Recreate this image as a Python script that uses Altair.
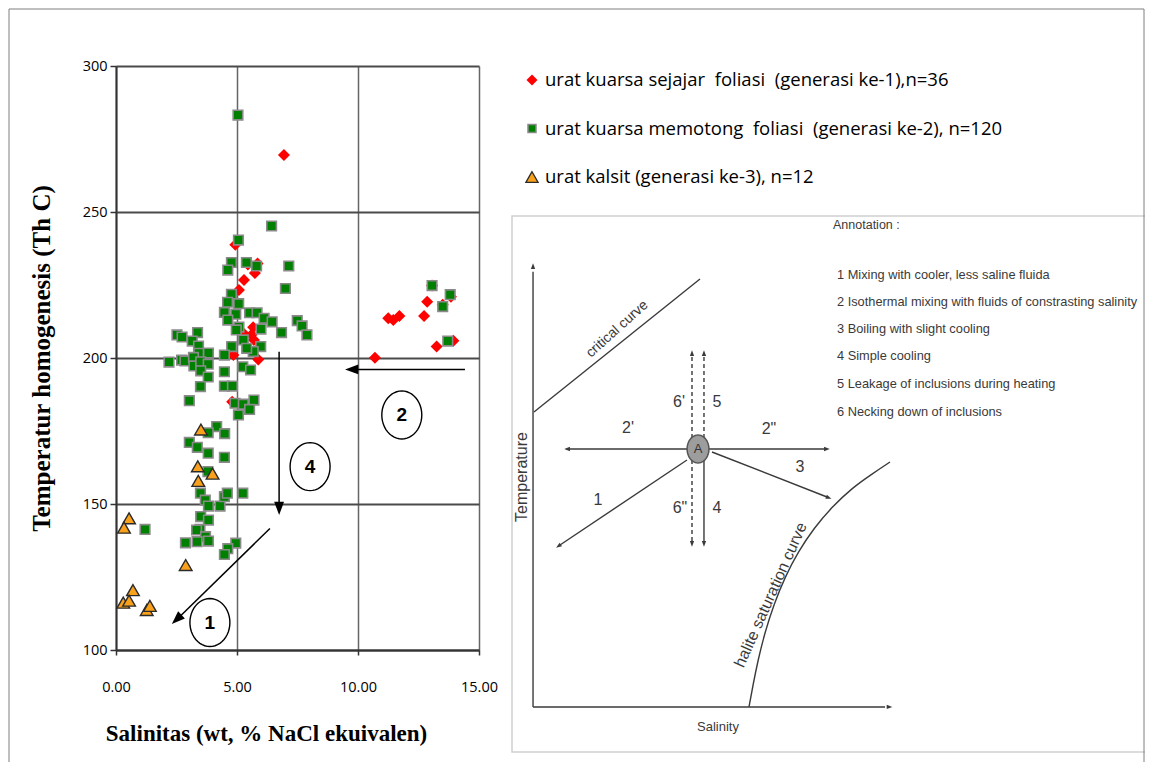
import math
import altair as alt
import pandas as pd

# ---------------- data ----------------
# generasi ke-1 (red diamonds)
red_x = [6.94, 4.93, 5.29, 5.08, 5.85, 5.74, 5.67, 5.70, 5.88, 4.85, 5.26, 5.60, 5.45, 4.80,
         10.70, 11.25, 11.46, 11.71, 12.73, 12.86, 13.25, 13.94, 13.84, 13.06, 13.50]
red_y = [269.5, 238.8, 226.7, 223.3, 232.4, 229.1, 210.5, 206.2, 199.5, 201.0, 208.5, 208.0, 232.0, 185.0,
         200.1, 213.6, 213.0, 214.4, 214.4, 219.3, 203.9, 205.9, 221.0, 224.8, 218.2]

# generasi ke-2 (green squares)
green_x = [5.04, 6.43, 5.06, 4.77, 5.39, 5.81, 7.14, 4.62, 7.00, 4.77,
           4.61, 5.07, 4.48, 4.95, 5.52, 5.83, 6.12, 6.45, 4.62, 7.49,
           7.69, 7.89, 6.84, 5.99, 5.08, 4.97, 5.98, 5.67, 5.26, 4.78,
           5.40, 4.48, 5.24, 5.56, 4.48, 4.48, 4.81, 4.92, 5.26, 5.70,
           5.52, 5.06, 2.52, 2.73, 3.37, 3.15, 3.41, 3.42, 3.82, 2.19,
           2.71, 2.85, 3.20, 3.22, 3.50, 3.81, 3.50, 3.81, 3.49, 3.03,
           4.16, 4.49, 3.81, 3.03, 3.36, 3.81, 4.48, 3.80, 3.49, 3.69,
           3.82, 4.30, 4.48, 4.60, 5.24, 3.50, 3.82, 3.47, 3.33, 3.70,
           2.87, 3.35, 3.82, 1.20, 4.95, 4.62, 4.48,
           13.06, 13.81, 13.50, 13.71]
green_y = [283.2, 245.2, 240.4, 232.7, 232.7, 231.5, 231.5, 230.1, 223.8, 221.8,
           219.1, 218.6, 215.6, 215.0, 215.5, 215.5, 213.6, 212.4, 213.0, 212.8,
           211.0, 207.9, 208.7, 209.9, 210.6, 209.6, 203.9, 202.2, 206.2, 203.9,
           203.3, 201.0, 197.0, 195.9, 195.3, 190.4, 190.4, 184.5, 184.2, 185.6,
           182.4, 180.5, 207.9, 207.2, 208.7, 205.8, 204.1, 201.6, 201.7, 198.6,
           199.3, 199.0, 200.2, 197.3, 198.7, 197.9, 195.6, 193.5, 190.2, 185.4,
           176.5, 174.1, 174.4, 171.1, 169.4, 167.4, 166.0, 161.1, 153.7, 151.3,
           149.3, 149.3, 152.5, 153.7, 153.7, 145.7, 144.5, 141.3, 141.1, 138.8,
           136.7, 137.1, 137.3, 141.3, 136.6, 134.7, 132.7,
           224.8, 221.7, 217.6, 205.8]

# generasi ke-3 (orange triangles)
orange_x = [3.51, 3.38, 3.99, 3.40, 2.88, 0.54, 0.33, 0.70, 0.30, 0.54, 1.27, 1.40]
orange_y = [175.5, 162.9, 160.4, 157.9, 129.1, 145.1, 141.9, 120.5, 116.2, 116.9, 113.7, 115.1]

NB = "\u00a0"
series_labels = [f"urat kuarsa sejajar {NB}foliasi {NB}(generasi ke-1),n=36",
                 f"urat kuarsa memotong {NB}foliasi {NB}(generasi ke-2), n=120",
                 "urat kalsit (generasi ke-3), n=12"]

x_ticks = [0, 5, 10, 15]
y_ticks = [100, 150, 200, 250, 300]

# process arrows drawn on the main chart (data units)
arrow_x0 = [6.74, 14.42, 6.36]
arrow_y0 = [202.1, 196.1, 141.6]
arrow_x1 = [6.74, 9.92, 2.64]
arrow_y1 = [150.0, 196.1, 111.5]
arrow_angle = [180, 270, 227]
circle_labels = ["4", "2", "1"]
circle_x = [8.02, 11.81, 3.88]
circle_y = [162.8, 180.5, 109.4]

# inset diagram (schematic units 0-100)
seg_x0 = [3.28, 3.28, 3.43, 8.89, 27.30, 31.20, 29.95]
seg_y0 = [8.40, 8.40, 63.43, 56.53, 54.48, 55.97, 54.48]
seg_x1 = [3.28, 58.2, 29.33, 48.83, 7.49, 49.14, 29.95]
seg_y1 = [89.6, 8.40, 88.25, 56.53, 38.62, 47.57, 39.18]
dash_x0 = [28.08, 29.95, 28.08]
dash_y0 = [58.58, 58.58, 54.48]
dash_x1 = [28.08, 29.95, 28.08]
dash_y1 = [74.07, 74.07, 39.18]
head_x = [3.28, 58.6, 8.89, 48.83, 28.08, 29.95, 28.08, 29.95, 7.49, 49.14]
head_y = [90.3, 8.40, 56.53, 56.53, 74.07, 74.07, 39.18, 39.18, 38.62, 47.57]
head_ang = [0, 90, 270, 90, 0, 0, 180, 180, 236, 111]
halite_x = [36.97, 37.60, 38.38, 39.47, 40.87, 42.59, 44.62, 47.11, 49.92, 53.04, 56.16, 58.97]
halite_y = [8.40, 12.50, 17.16, 22.39, 27.61, 32.65, 37.31, 41.79, 45.71, 49.25, 51.87, 54.10]
path_labels = ["2'", '2"', "6'", "5", '6"', "4", "1", "3"]
path_lab_x = [18.10, 40.09, 26.05, 31.98, 26.21, 31.98, 13.42, 44.93]
path_lab_y = [60.45, 60.26, 65.30, 65.30, 45.52, 45.52, 47.01, 53.17]
annot_title = "Annotation :"
annot_items = ["1  Mixing with cooler, less saline fluida",
               "2  Isothermal mixing with fluids of constrasting salinity",
               "3  Boiling with slight cooling",
               "4  Simple cooling",
               "5  Leakage of inclusions during heating",
               "6  Necking down of inclusions"]
annot_y = [88.99, 83.96, 78.92, 73.88, 68.66, 63.43]


def ellipse_path(rx, ry, n=48):
    pts = []
    for i in range(n):
        t = 2 * math.pi * i / n
        pts.append(f"{rx * math.cos(t):.4f},{ry * math.sin(t):.4f}")
    return "M" + " L".join(pts) + " Z"


HEAD = "M0,-1 L0.45,0.2 L-0.45,0.2 Z"
TXT = "Liberation Sans"
INK = "#3a3a3a"

# ---------------- main scatter ----------------
xs = alt.Scale(domain=[0, 15], nice=False, zero=False)
ys = alt.Scale(domain=[100, 300], nice=False, zero=False)
axis_x = alt.Axis(values=x_ticks, format=".2f", title="Salinitas (wt, % NaCl ekuivalen)",
                  titleFont="Liberation Serif", titleFontSize=23, titleFontWeight="bold",
                  titleColor="black", titleX=150, titleY=83, titleAlign="center",
                  titleBaseline="middle", labelFont="Open Sans", labelFontSize=14.5,
                  labelColor="black", labelPadding=25, labelFlush=False, tickSize=5,
                  tickColor="#333", tickWidth=1.5, domainColor="#333", domainWidth=2,
                  grid=True, gridColor="#666", gridWidth=1.5)
axis_y = alt.Axis(values=y_ticks, format="d", title="Temperatur homogenesis (Th  C)",
                  titleFont="Liberation Serif", titleFontSize=25, titleFontWeight="bold",
                  titleColor="black", titleAngle=270, titleX=-75, titleY=292,
                  titleAlign="center", titleBaseline="middle", labelFont="Open Sans",
                  labelFontSize=14.5, labelColor="black", labelPadding=3, tickSize=6,
                  tickColor="#333", tickWidth=1.5, domainColor="#333", domainWidth=2,
                  grid=True, gridColor="#4a4a4a", gridWidth=2)
X = alt.X("x:Q", scale=xs, axis=axis_x)
Y = alt.Y("y:Q", scale=ys, axis=axis_y)

red_df = pd.DataFrame({"x": red_x, "y": red_y})
green_df = pd.DataFrame({"x": green_x, "y": green_y})
orange_df = pd.DataFrame({"x": orange_x, "y": orange_y})
arrow_df = pd.DataFrame({"x": arrow_x0, "y": arrow_y0, "x2": arrow_x1, "y2": arrow_y1})
head_df = pd.DataFrame({"x": arrow_x1, "y": arrow_y1, "ang": arrow_angle})
circ_df = pd.DataFrame({"x": circle_x, "y": circle_y, "label": circle_labels})

reds = alt.Chart(red_df).mark_point(shape="diamond", filled=True, fill="#FF0000",
                                    strokeWidth=0, size=144, opacity=1).encode(x=X, y=Y)
greens = alt.Chart(green_df).mark_point(shape="square", filled=True, fill="#008000",
                                        stroke="#8a8a8a", strokeWidth=1.6, size=92,
                                        opacity=1).encode(x=X, y=Y)
oranges = alt.Chart(orange_df).mark_point(shape="triangle-up", filled=True, fill="#F9A11B",
                                          stroke="#2b2b2b", strokeWidth=1.4, size=160,
                                          opacity=1).encode(x=X, y=Y)
arrows = alt.Chart(arrow_df).mark_rule(color="black", strokeWidth=1.5).encode(
    x=X, y=Y, x2="x2:Q", y2="y2:Q")
heads = alt.Chart(head_df).mark_point(shape=HEAD, filled=True, fill="black", size=484,
                                      opacity=1, strokeWidth=0).encode(
    x=X, y=Y, angle=alt.Angle("ang:Q", scale=None))
circles = alt.Chart(circ_df).mark_point(shape=ellipse_path(0.833, 1.0), filled=False,
                                        stroke="black", strokeWidth=1.4, size=2304,
                                        opacity=1).encode(x=X, y=Y)
circ_txt = alt.Chart(circ_df).mark_text(font=TXT, fontWeight="bold", fontSize=19,
                                        color="black", baseline="middle").encode(
    x=X, y=Y, text="label:N")

main = alt.layer(reds, greens, oranges, arrows, heads, circles, circ_txt)

# ---------------- legend ----------------
leg_df = pd.DataFrame({"row": [0, 1, 2], "label": series_labels})
LY = alt.Y("row:Q", scale=alt.Scale(domain=[0, 2], range=[14, 111], nice=False, zero=False),
           axis=None)
leg_red = alt.Chart(leg_df).transform_filter("datum.row == 0").mark_point(
    shape="diamond", filled=True, fill="#FF0000", strokeWidth=0, size=120, opacity=1
).encode(x=alt.value(416), y=LY)
leg_green = alt.Chart(leg_df).transform_filter("datum.row == 1").mark_point(
    shape="square", filled=True, fill="#008000", stroke="#8a8a8a", strokeWidth=1.5,
    size=64, opacity=1).encode(x=alt.value(416), y=LY)
leg_orange = alt.Chart(leg_df).transform_filter("datum.row == 2").mark_point(
    shape="triangle-up", filled=True, fill="#F9A11B", stroke="#2b2b2b", strokeWidth=1.3,
    size=150, opacity=1).encode(x=alt.value(416), y=LY)
leg_txt = alt.Chart(leg_df).mark_text(align="left", baseline="middle", font="Open Sans",
                                      fontSize=18.5, color="black").encode(
    x=alt.value(429), y=LY, text="label:N")
legend = alt.layer(leg_red, leg_green, leg_orange, leg_txt)

# ---------------- inset diagram ----------------
sxi = alt.Scale(domain=[0, 100], range=[396, 1037], nice=False, zero=False)
syi = alt.Scale(domain=[0, 100], range=[686, 150], nice=False, zero=False)
XI = alt.X("x:Q", scale=sxi, axis=None)
YI = alt.Y("y:Q", scale=syi, axis=None)

box_df = pd.DataFrame({"x": [0], "y": [0], "x2": [100], "y2": [100]})
seg_df = pd.DataFrame({"x": seg_x0, "y": seg_y0, "x2": seg_x1, "y2": seg_y1})
dash_df = pd.DataFrame({"x": dash_x0, "y": dash_y0, "x2": dash_x1, "y2": dash_y1})
ihead_df = pd.DataFrame({"x": head_x, "y": head_y, "ang": head_ang})
hal_df = pd.DataFrame({"x": halite_x, "y": halite_y, "i": list(range(len(halite_x)))})
plab_df = pd.DataFrame({"x": path_lab_x, "y": path_lab_y, "label": path_labels})
ann_df = pd.DataFrame({"x": [50.7] * len(annot_items), "y": annot_y, "label": annot_items})
annt_df = pd.DataFrame({"x": [50.08], "y": [98.3], "label": [annot_title]})
a_df = pd.DataFrame({"x": [29.02], "y": [56.53], "label": ["A"]})
crit_df = pd.DataFrame({"x": [16.4], "y": [78.9], "label": ["critical curve"]})
hal_txt_df = pd.DataFrame({"x": [41.5], "y": [28.7], "label": ["halite saturation curve"]})
temp_df = pd.DataFrame({"x": [1.55], "y": [51.3], "label": ["Temperature"]})
sal_df = pd.DataFrame({"x": [32.14], "y": [4.66], "label": ["Salinity"]})

box = alt.Chart(box_df).mark_rect(fillOpacity=0, stroke="#cfcfcf", strokeWidth=1.5).encode(
    x=XI, y=YI, x2="x2:Q", y2="y2:Q")
segs = alt.Chart(seg_df).mark_rule(color=INK, strokeWidth=1.4).encode(
    x=XI, y=YI, x2="x2:Q", y2="y2:Q")
dashes = alt.Chart(dash_df).mark_rule(color=INK, strokeWidth=1.4, strokeDash=[4, 3]).encode(
    x=XI, y=YI, x2="x2:Q", y2="y2:Q")
iheads = alt.Chart(ihead_df).mark_point(shape=HEAD, filled=True, fill=INK, size=90,
                                        opacity=1, strokeWidth=0).encode(
    x=XI, y=YI, angle=alt.Angle("ang:Q", scale=None))
halite = alt.Chart(hal_df).mark_line(color=INK, strokeWidth=1.4, interpolate="basis").encode(
    x=XI, y=YI, order="i:Q")
point_a = alt.Chart(a_df).mark_point(shape=ellipse_path(0.78, 1.0), filled=True, fill="#9d9d9d",
                                     stroke="#555", strokeWidth=1.5, size=784,
                                     opacity=1).encode(x=XI, y=YI)
a_txt = alt.Chart(a_df).mark_text(font=TXT, fontSize=13, color="#333", baseline="middle").encode(
    x=XI, y=YI, text="label:N")
plabs = alt.Chart(plab_df).mark_text(font=TXT, fontSize=16, color=INK, baseline="middle").encode(
    x=XI, y=YI, text="label:N")
ann = alt.Chart(ann_df).mark_text(font=TXT, fontSize=12.8, color=INK, align="left",
                                  baseline="middle").encode(x=XI, y=YI, text="label:N")
annt = alt.Chart(annt_df).mark_text(font=TXT, fontSize=12.5, color=INK, align="left",
                                    baseline="middle").encode(x=XI, y=YI, text="label:N")
crit = alt.Chart(crit_df).mark_text(font=TXT, fontSize=14, color=INK, angle=318,
                                    baseline="middle").encode(x=XI, y=YI, text="label:N")
hal_txt = alt.Chart(hal_txt_df).mark_text(font=TXT, fontSize=16, color=INK, angle=294,
                                          baseline="bottom").encode(x=XI, y=YI, text="label:N")
temp_txt = alt.Chart(temp_df).mark_text(font=TXT, fontSize=16, color=INK, angle=270,
                                        baseline="middle").encode(x=XI, y=YI, text="label:N")
sal_txt = alt.Chart(sal_df).mark_text(font=TXT, fontSize=13, color=INK,
                                      baseline="middle").encode(x=XI, y=YI, text="label:N")

inset = alt.layer(box, segs, dashes, iheads, halite, point_a, a_txt, plabs, ann, annt,
                  crit, hal_txt, temp_txt, sal_txt)

# ---------------- outer frame ----------------
frame_df = pd.DataFrame({"k": [0]})
frame = alt.Chart(frame_df).mark_rect(fillOpacity=0, stroke="#7f7f7f", strokeWidth=1).encode(
    x=alt.value(-107), x2=alt.value(1028), y=alt.value(-57), y2=alt.value(700))

chart = alt.layer(main, legend, inset, frame).resolve_scale(
    x="independent", y="independent"
).properties(
    width=363, height=584,
    autosize=alt.AutoSizeParams(type="none"),
    padding={"left": 108, "top": 58, "right": 666, "bottom": 112},
).configure_view(stroke="transparent")

chart.save("out.html", embed_options={"renderer": "svg", "actions": False})
